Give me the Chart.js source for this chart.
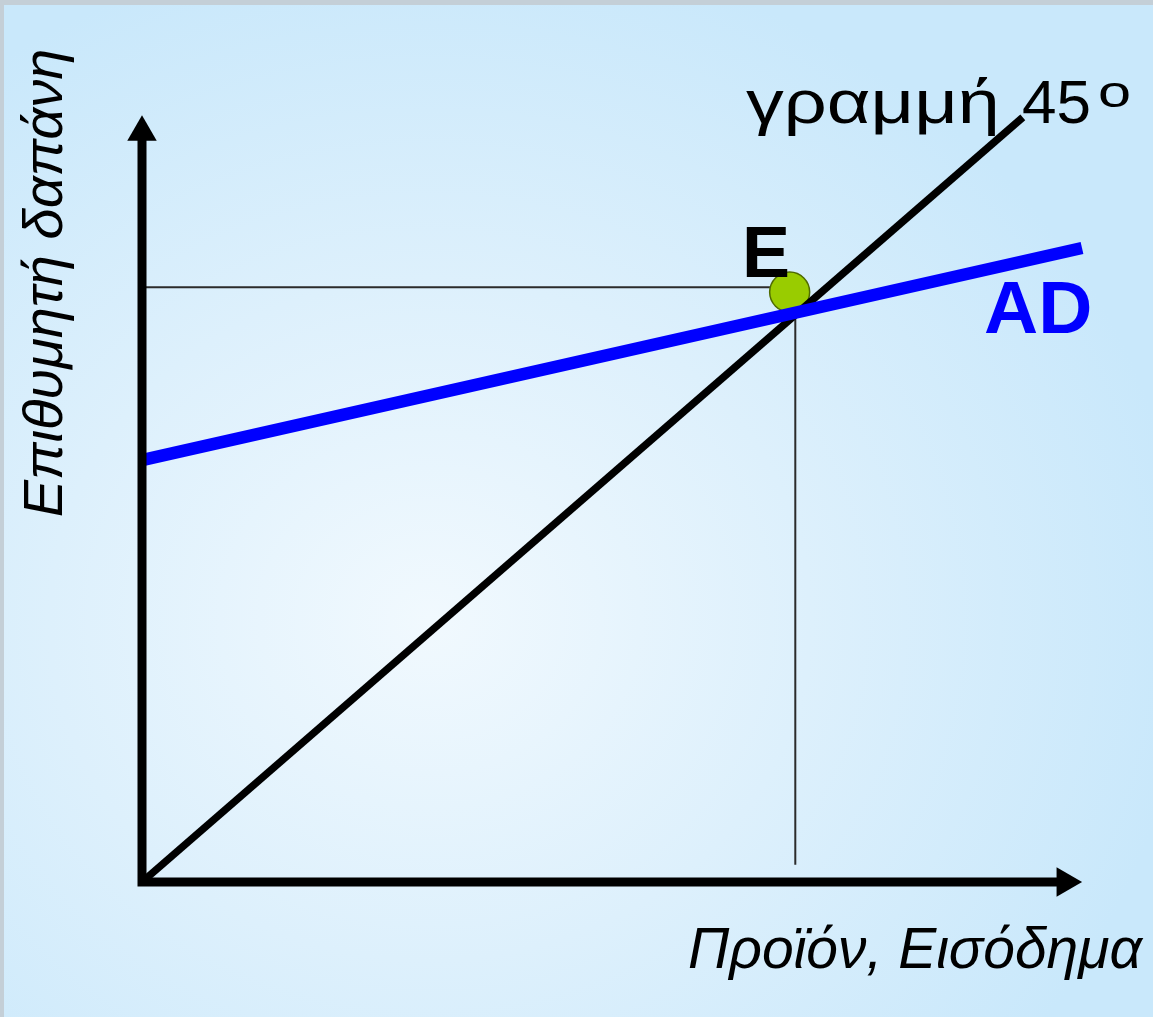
<!DOCTYPE html>
<html>
<head>
<meta charset="utf-8">
<script src="https://cdn.jsdelivr.net/npm/chart.js@4.4.0/dist/chart.umd.min.js"></script>
<style>
  html, body { margin: 0; padding: 0; }
  body {
    width: 1153px; height: 1017px; overflow: hidden;
    background: radial-gradient(ellipse 760px 680px at 430px 620px, #f1f9fe 0%, #ddf0fc 50%, #c9e8fb 100%);
    box-shadow: inset 4px 5px 0 #c4cfd7;
  }
  #wrap { position: relative; width: 1153px; height: 1017px; }
</style>
</head>
<body>
<div id="wrap"><canvas id="chart"></canvas></div>
<script>
// scale ranges (output / income on x, planned spending on y)
var xRange = [0, 10];
var yRange = [0, 9.4];

// the two axes as one polyline: top of spending axis -> origin -> end of income axis
var axisX = [0, 0, 9.82];
var axisY = [9.19, 0, 0];

// 45 degree line
var lineX = [0, 9.37];
var lineY = [0, 9.37];

// aggregate demand AD
var adX = [0, 10];
var adY = [5.17, 7.77];

// equilibrium point E
var eqX = [6.89];
var eqY = [7.23];

// thin guide lines from E to the axes
var guideHX = [0, 6.68];
var guideHY = [7.29, 7.29];
var guideVX = [6.95, 6.95];
var guideVY = [6.95, 0.21];

function pts(xs, ys) {
  return xs.map(function (x, i) { return {x: x, y: ys[i]}; });
}

var FONT = '"Liberation Sans", Arial, sans-serif';

var textPlugin = {
  id: 'texts',
  afterDatasetsDraw: function (chart) {
    var ctx = chart.ctx;
    ctx.save();
    ctx.textBaseline = 'alphabetic';
    ctx.textAlign = 'left';
    ctx.fillStyle = '#000';

    // γραμμή 45ο  (greek letters are wider in the original face)
    ctx.font = '62px ' + FONT;
    ctx.save();
    ctx.translate(746, 123);
    ctx.scale(1.22, 1);
    ctx.fillText('γραμμή', 0, 0);
    ctx.restore();
    ctx.fillText('45', 1022, 123);
    ctx.save();
    ctx.translate(1098, 107);
    ctx.scale(1.35, 1);
    ctx.font = '44px ' + FONT;
    ctx.fillText('ο', 0, 0);
    ctx.restore();

    // E
    ctx.font = 'bold 72px ' + FONT;
    ctx.fillText('E', 742, 277);

    // AD
    ctx.fillStyle = '#0000ff';
    ctx.font = 'bold 75px ' + FONT;
    ctx.fillText('AD', 984, 333);

    // axis titles
    ctx.fillStyle = '#000';
    ctx.font = 'italic 57px ' + FONT;
    ctx.textAlign = 'right';
    ctx.fillText('Προϊόν, Εισόδημα', 1142, 968);

    ctx.translate(62, 283);
    ctx.rotate(-Math.PI / 2);
    ctx.textAlign = 'center';
    ctx.font = 'italic 56px ' + FONT;
    ctx.fillText('Επιθυμητή δαπάνη', 0, 0);
    ctx.restore();
  }
};

new Chart('chart', {
  type: 'scatter',
  data: {
    datasets: [{
      label: 'axes',
      data: pts(axisX, axisY),
      showLine: true,
      borderColor: '#000',
      borderWidth: 9,
      borderJoinStyle: 'miter',
      pointStyle: 'triangle',
      pointRadius: [17, 0, 17],
      pointRotation: [0, 0, 90],
      pointBackgroundColor: '#000',
      pointBorderWidth: 0,
      clip: false,
      order: 0
    }, {
      label: 'AD',
      data: pts(adX, adY),
      showLine: true,
      borderColor: '#0000ff',
      borderWidth: 12.5,
      pointRadius: 0,
      clip: false,
      order: 1
    }, {
      label: '45',
      data: pts(lineX, lineY),
      showLine: true,
      borderColor: '#000',
      borderWidth: 7.5,
      pointRadius: 0,
      clip: false,
      order: 2
    }, {
      label: 'E',
      data: pts(eqX, eqY),
      pointRadius: 20,
      backgroundColor: '#99cc00',
      borderColor: '#4f6b00',
      borderWidth: 1.5,
      clip: false,
      order: 3
    }, {
      label: 'guideH',
      data: pts(guideHX, guideHY),
      showLine: true,
      borderColor: '#2b2b2b',
      borderWidth: 2,
      pointRadius: 0,
      order: 4
    }, {
      label: 'guideV',
      data: pts(guideVX, guideVY),
      showLine: true,
      borderColor: '#2b2b2b',
      borderWidth: 2,
      pointRadius: 0,
      order: 4
    }]
  },
  options: {
    responsive: true,
    maintainAspectRatio: false,
    animation: false,
    events: [],
    layout: { padding: { left: 142, right: 71, top: 115, bottom: 135 } },
    plugins: {
      legend: { display: false },
      tooltip: { enabled: false }
    },
    scales: {
      x: { type: 'linear', min: xRange[0], max: xRange[1], display: false },
      y: { type: 'linear', min: yRange[0], max: yRange[1], display: false }
    }
  },
  plugins: [textPlugin]
});
</script>
</body>
</html>
